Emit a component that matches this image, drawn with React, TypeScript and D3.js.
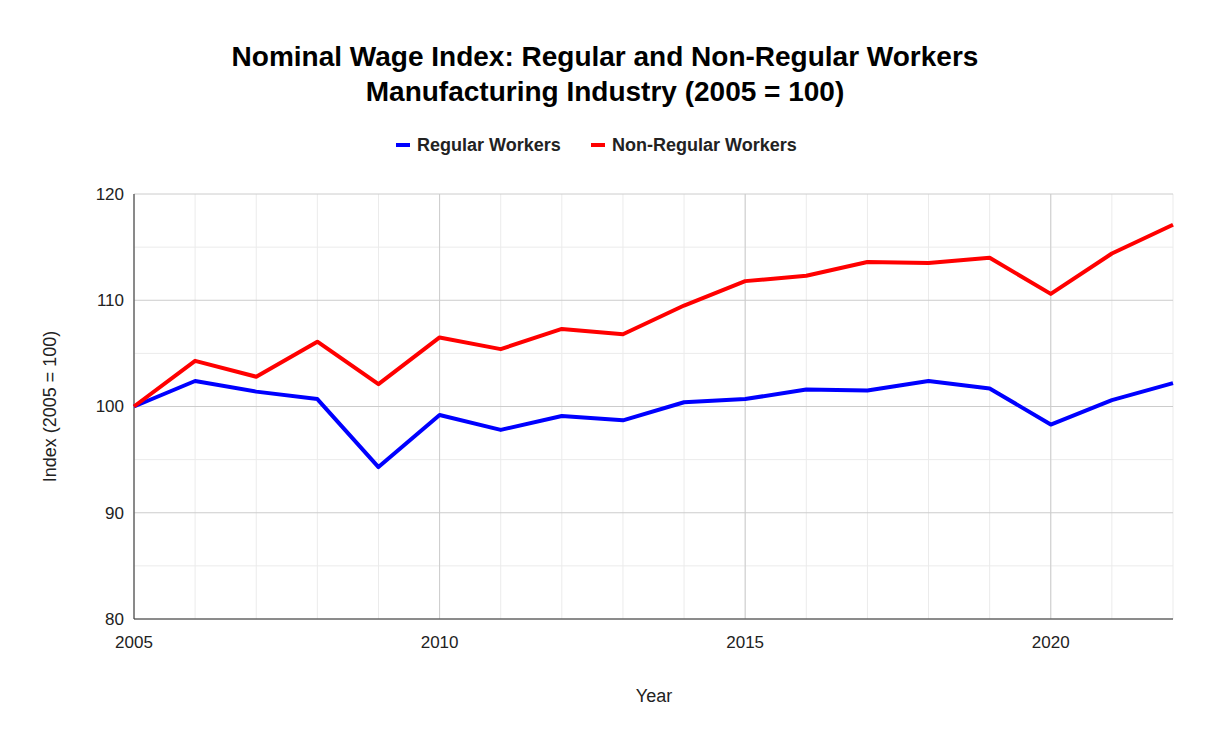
import * as d3 from "d3";

const years = d3.range(2005, 2023);
const regular = [100, 102.4, 101.4, 100.7, 94.3, 99.2, 97.8, 99.1, 98.7, 100.4, 100.7, 101.6, 101.5, 102.4, 101.7, 98.3, 100.6, 102.2];
const nonRegular = [100, 104.3, 102.8, 106.1, 102.1, 106.5, 105.4, 107.3, 106.8, 109.5, 111.8, 112.3, 113.6, 113.5, 114.0, 110.6, 114.4, 117.1];
const yTicks = [80, 90, 100, 110, 120];
const xTicks = [2005, 2010, 2015, 2020];

const W = 1211;
const H = 745;
const margin = { left: 134, right: 38, top: 194, bottom: 126 };
const font = "'Liberation Sans', Arial, sans-serif";

export default function App() {
  const x = d3.scaleLinear().domain([2005, 2022]).range([margin.left, W - margin.right]);
  const y = d3.scaleLinear().domain([80, 120]).range([H - margin.bottom, margin.top]);
  const line = d3
    .line<number>()
    .x((_, i) => x(years[i]))
    .y((d) => y(d));
  const minorY = d3.range(85, 120, 10);

  return (
    <svg width={W} height={H} style={{ position: "absolute", left: 0, top: 0, background: "#fff" }} fontFamily={font}>
      {/* minor grid */}
      {years.map((yr) => (
        <line key={"mx" + yr} x1={x(yr)} x2={x(yr)} y1={y(120)} y2={y(80)} stroke="#ebebeb" />
      ))}
      {minorY.map((v) => (
        <line key={"my" + v} x1={x(2005)} x2={x(2022)} y1={y(v)} y2={y(v)} stroke="#ebebeb" />
      ))}
      {/* major grid */}
      {xTicks.map((t) => (
        <line key={"gx" + t} x1={x(t)} x2={x(t)} y1={y(120)} y2={y(80)} stroke="#cccccc" />
      ))}
      {yTicks.map((t) => (
        <line key={"gy" + t} x1={x(2005)} x2={x(2022)} y1={y(t)} y2={y(t)} stroke="#cccccc" />
      ))}
      <line x1={x(2005)} x2={x(2005)} y1={y(120)} y2={y(80)} stroke="#333" />
      <line x1={x(2005)} x2={x(2022)} y1={y(80)} y2={y(80)} stroke="#333" />

      {yTicks.map((t) => (
        <text key={"ty" + t} x={x(2005) - 10} y={y(t)} dy="0.35em" textAnchor="end" fontSize={17} fill="#222">
          {t}
        </text>
      ))}
      {xTicks.map((t) => (
        <text key={"tx" + t} x={x(t)} y={y(80) + 29} textAnchor="middle" fontSize={17} fill="#222">
          {t}
        </text>
      ))}

      <path d={line(regular)!} fill="none" stroke="#0000ff" strokeWidth={4} strokeLinejoin="round" />
      <path d={line(nonRegular)!} fill="none" stroke="#ff0000" strokeWidth={4} strokeLinejoin="round" />

      <text x={605} y={66} textAnchor="middle" fontSize={28} fontWeight="bold" fill="#000">
        Nominal Wage Index: Regular and Non-Regular Workers
      </text>
      <text x={605} y={101} textAnchor="middle" fontSize={28} fontWeight="bold" fill="#000">
        Manufacturing Industry (2005 = 100)
      </text>

      <line x1={396} x2={410} y1={145} y2={145} stroke="#0000ff" strokeWidth={4} />
      <text x={417} y={145} dy="0.35em" fontSize={18} fontWeight="bold" fill="#222">Regular Workers</text>
      <line x1={591} x2={605} y1={145} y2={145} stroke="#ff0000" strokeWidth={4} />
      <text x={612} y={145} dy="0.35em" fontSize={18} fontWeight="bold" fill="#222">Non-Regular Workers</text>

      <text x={654} y={702} textAnchor="middle" fontSize={18} fill="#222">Year</text>
      <text transform={`translate(56,${y(100)}) rotate(-90)`} textAnchor="middle" fontSize={18} fill="#222">
        Index (2005 = 100)
      </text>
    </svg>
  );
}
